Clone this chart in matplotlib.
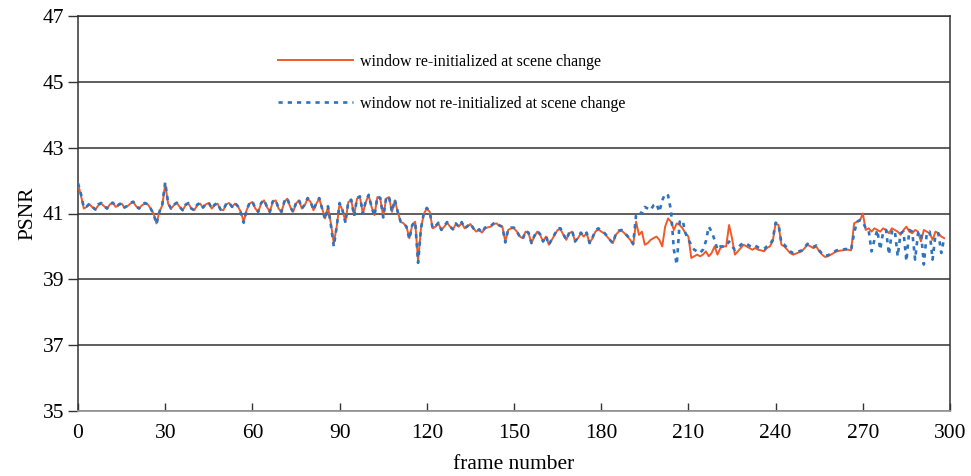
import matplotlib
matplotlib.use("Agg")
import matplotlib.pyplot as plt
import numpy as np

# PSNR per frame, window re-initialized at scene change
psnr_reinit = [
    41.90, 41.55, 41.15, 41.20, 41.28, 41.18, 41.12, 41.25, 41.30, 41.22,
    41.15, 41.28, 41.32, 41.20, 41.25, 41.30, 41.18, 41.22, 41.30, 41.35,
    41.22, 41.15, 41.25, 41.30, 41.28, 41.15, 41.00, 40.70, 41.05, 41.25,
    41.90, 41.30, 41.15, 41.25, 41.32, 41.20, 41.10, 41.25, 41.30, 41.15,
    41.10, 41.25, 41.30, 41.18, 41.28, 41.32, 41.15, 41.25, 41.30, 41.12,
    41.10, 41.28, 41.32, 41.20, 41.30, 41.22, 41.05, 40.75, 41.10, 41.30,
    41.35, 41.15, 41.05, 41.30, 41.40, 41.20, 41.05, 41.35, 41.40, 41.15,
    41.05, 41.35, 41.45, 41.20, 41.05, 41.30, 41.40, 41.15, 41.25, 41.45,
    41.35, 41.10, 41.30, 41.45, 41.15, 40.85, 41.20, 40.70, 40.10, 40.60,
    41.30, 41.10, 40.75, 41.35, 41.40, 40.95, 41.45, 41.50, 41.00, 41.35,
    41.55, 41.20, 40.95, 41.50, 41.45, 40.90, 41.45, 41.50, 41.05, 41.40,
    41.05, 40.75, 40.70, 40.60, 40.25, 40.65, 40.75, 39.55, 40.55, 41.00,
    41.15, 41.05, 40.55, 40.60, 40.70, 40.50, 40.60, 40.72, 40.60, 40.52,
    40.68, 40.60, 40.72, 40.55, 40.60, 40.68, 40.55, 40.45, 40.50, 40.42,
    40.55, 40.58, 40.60, 40.68, 40.70, 40.62, 40.60, 40.15, 40.50, 40.55,
    40.55, 40.45, 40.30, 40.25, 40.45, 40.40, 40.10, 40.30, 40.45, 40.35,
    40.15, 40.30, 40.05, 40.20, 40.35, 40.50, 40.52, 40.35, 40.20, 40.40,
    40.45, 40.15, 40.25, 40.40, 40.30, 40.40, 40.10, 40.25, 40.45, 40.52,
    40.45, 40.40, 40.30, 40.20, 40.10, 40.35, 40.45, 40.48, 40.40, 40.30,
    40.20, 40.05, 40.75, 40.35, 40.45, 40.05, 40.10, 40.20, 40.25, 40.30,
    40.20, 40.00, 40.60, 40.85, 40.75, 40.50, 40.70, 40.65, 40.55, 40.40,
    40.30, 39.65, 39.70, 39.75, 39.70, 39.75, 39.85, 39.70, 39.80, 40.00,
    39.75, 39.95, 40.00, 40.00, 40.65, 40.25, 39.75, 39.85, 39.95, 40.05,
    40.00, 39.95, 39.90, 39.95, 39.90, 39.88, 39.85, 39.95, 40.00, 40.15,
    40.70, 40.65, 40.05, 40.00, 39.90, 39.80, 39.75, 39.78, 39.82, 39.85,
    39.95, 40.05, 40.00, 39.95, 40.00, 39.85, 39.75, 39.68, 39.70, 39.75,
    39.80, 39.85, 39.87, 39.88, 39.90, 39.90, 39.88, 40.70, 40.75, 40.78,
    41.00, 40.50, 40.55, 40.45, 40.55, 40.50, 40.45, 40.55, 40.50, 40.40,
    40.55, 40.50, 40.45, 40.35, 40.50, 40.60, 40.45, 40.40, 40.50, 40.45,
    40.15, 40.50, 40.45, 40.40, 40.20, 40.45, 40.40, 40.30, 40.25,
]

# PSNR per frame, window not re-initialized at scene change
psnr_no_reinit = [
    41.92, 41.60, 41.18, 41.22, 41.30, 41.20, 41.12, 41.28, 41.32, 41.22,
    41.15, 41.30, 41.33, 41.20, 41.27, 41.32, 41.18, 41.24, 41.32, 41.36,
    41.22, 41.15, 41.27, 41.32, 41.28, 41.15, 40.98, 40.68, 41.05, 41.28,
    41.95, 41.32, 41.15, 41.27, 41.33, 41.20, 41.10, 41.27, 41.32, 41.15,
    41.10, 41.27, 41.32, 41.18, 41.30, 41.33, 41.15, 41.27, 41.32, 41.12,
    41.10, 41.30, 41.33, 41.20, 41.32, 41.22, 41.03, 40.72, 41.10, 41.32,
    41.37, 41.15, 41.05, 41.32, 41.42, 41.20, 41.05, 41.37, 41.42, 41.15,
    41.05, 41.37, 41.47, 41.20, 41.05, 41.32, 41.42, 41.15, 41.27, 41.47,
    41.37, 41.10, 41.32, 41.47, 41.15, 40.82, 41.22, 40.65, 40.00, 40.60,
    41.32, 41.10, 40.72, 41.37, 41.42, 40.92, 41.47, 41.52, 41.00, 41.37,
    41.57, 41.20, 40.92, 41.52, 41.47, 40.88, 41.47, 41.52, 41.05, 41.42,
    41.05, 40.75, 40.70, 40.60, 40.22, 40.65, 40.75, 39.50, 40.55, 41.02,
    41.17, 41.05, 40.55, 40.62, 40.72, 40.50, 40.62, 40.74, 40.60, 40.52,
    40.70, 40.60, 40.74, 40.55, 40.62, 40.70, 40.55, 40.45, 40.52, 40.42,
    40.57, 40.60, 40.62, 40.70, 40.72, 40.64, 40.60, 40.12, 40.52, 40.57,
    40.57, 40.45, 40.30, 40.22, 40.47, 40.42, 40.10, 40.32, 40.47, 40.37,
    40.15, 40.32, 40.05, 40.22, 40.37, 40.55, 40.55, 40.37, 40.20, 40.42,
    40.48, 40.15, 40.27, 40.42, 40.32, 40.42, 40.10, 40.27, 40.48, 40.55,
    40.48, 40.42, 40.32, 40.20, 40.10, 40.37, 40.48, 40.50, 40.42, 40.32,
    40.22, 40.08, 40.95, 41.05, 41.00, 41.20, 41.15, 41.10, 41.25, 41.30,
    41.05, 41.40, 41.60, 41.55, 41.10, 39.90, 39.45, 40.75, 40.80, 40.40,
    40.20, 40.05, 39.90, 39.85, 39.80, 39.90, 40.15, 40.60, 40.45, 40.20,
    39.90, 40.00, 40.00, 40.02, 40.15, 40.00, 39.90, 39.95, 40.05, 40.10,
    40.08, 40.02, 39.98, 40.02, 39.97, 39.95, 39.92, 40.00, 40.05, 40.20,
    40.72, 40.68, 40.10, 40.05, 39.95, 39.85, 39.80, 39.82, 39.85, 39.88,
    39.98, 40.08, 40.03, 39.98, 40.03, 39.88, 39.78, 39.72, 39.73, 39.78,
    39.83, 39.88, 39.90, 39.90, 39.92, 39.92, 39.90, 40.40, 40.75, 40.80,
    40.75, 40.55, 40.50, 39.85, 40.20, 40.50, 39.90, 40.45, 40.50, 39.75,
    40.45, 40.50, 39.70, 40.40, 40.45, 39.55, 40.50, 40.45, 39.60, 40.40,
    40.45, 39.45, 40.40, 40.45, 39.60, 40.35, 40.40, 39.80, 40.25,
]

frames = np.arange(len(psnr_reinit))
x_ticks = [0, 30, 60, 90, 120, 150, 180, 210, 240, 270, 300]
y_ticks = [35, 37, 39, 41, 43, 45, 47]

label_reinit = "window re-initialized at scene change"
label_no_reinit = "window not re-initialized at scene change"

plt.rcParams["font.family"] = ["Liberation Serif", "DejaVu Serif"]

fig = plt.figure(figsize=(9.71, 4.76), dpi=100)
ax = fig.add_axes([78 / 971, 1 - 411 / 476, (950 - 78) / 971, (411 - 16) / 476])

ax.plot(frames, psnr_reinit, color="#f05a28", lw=1.4, label=label_reinit, zorder=3)
ax.plot(frames, psnr_no_reinit, color="#2e73bf", lw=1.9,
        linestyle=(0, (1.6, 1.9)), label=label_no_reinit, zorder=4)

ax.set_xlim(0, 300)
ax.set_ylim(35, 47)
ax.set_xticks(x_ticks)
ax.set_yticks(y_ticks)
ax.yaxis.grid(True, color="#333333", lw=1.1)
ax.set_axisbelow(True)

for side in ["left", "right", "top"]:
    ax.spines[side].set_color("#333333")
    ax.spines[side].set_linewidth(1.1)
ax.spines["bottom"].set_color("#999999")
ax.spines["bottom"].set_linewidth(1.3)

ax.tick_params(axis="y", direction="out", length=7, width=1, color="#333333",
               labelsize=15.5, pad=3)
ax.tick_params(axis="x", direction="in", length=6, width=1, color="#333333",
               labelsize=15.5, pad=9)

ax.set_xlabel("frame number", fontsize=15.5, labelpad=9)
ax.set_ylabel("PSNR", fontsize=15.5, labelpad=4)

ax.legend(loc="upper left", bbox_to_anchor=(278 / 971, 1 - 54 / 476),
          bbox_transform=fig.transFigure, frameon=False, fontsize=11.5,
          handlelength=4.7, handletextpad=0.45, labelspacing=1.6,
          borderpad=0, borderaxespad=0)

fig.savefig("out.png", dpi=100)
